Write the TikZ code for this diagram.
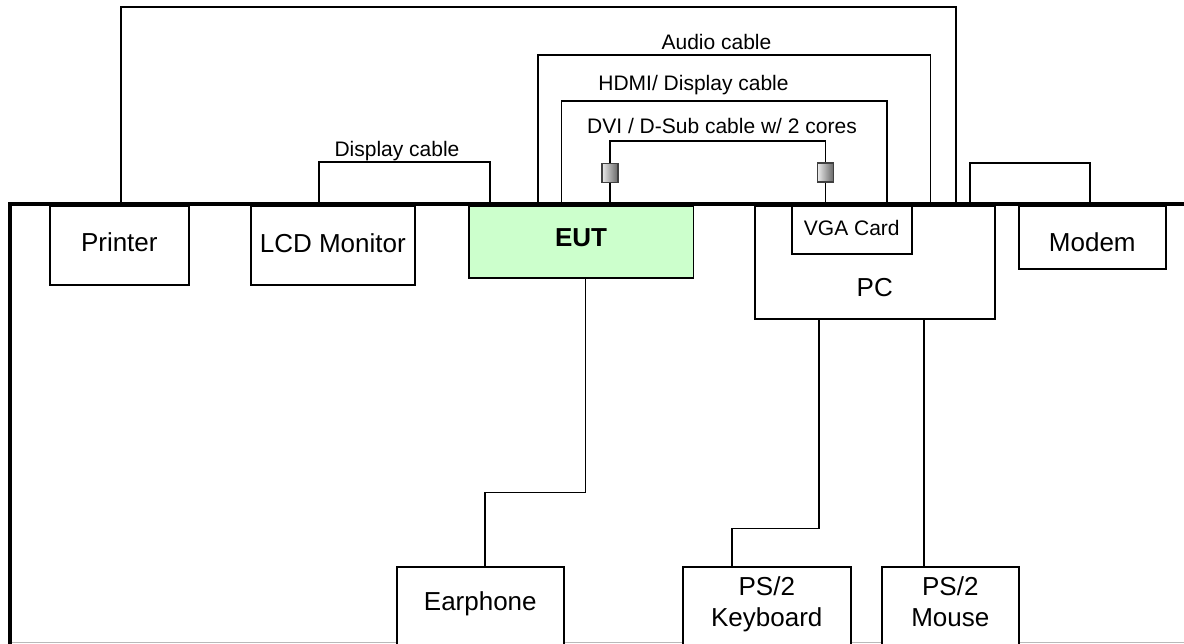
\documentclass[tikz,border=0pt]{standalone}
\usepackage{fontspec}
\setmainfont{Liberation Sans}
\newcommand\devfont{\fontsize{26}{31}\selectfont}
\newcommand\cabfont{\fontsize{21}{25}\selectfont}
\definecolor{eutgreen}{HTML}{CCFFCC}

\begin{document}
\begin{tikzpicture}[x=1pt, y=-1pt,
  dev/.style={draw, fill=white, line width=1.6pt, inner sep=0pt,
    anchor=north west, font=\devfont, align=center},
  cable/.style={line width=1.3pt},
  plug/.style={draw=black!75, line width=1.2pt, left color=white!92!black,
    right color=black!60, minimum width=16pt, minimum height=19pt, inner sep=0pt},
  lbl/.style={anchor=base, font=\cabfont, inner sep=0pt},
  frame/.style={line width=3.5pt}]

  \useasboundingbox (0,0) rectangle (1184,643);
  \clip (0,0) rectangle (1184,643);

  % bottom edge of the table
  \draw[gray!55, line width=1pt] (10,642) -- (1184,642);

  % Devices on the table
  \node[dev, minimum width=139pt, minimum height=79pt, text height=13pt, text depth=0pt] (printer) at (49,205) {Printer};
  \node[dev, minimum width=164pt, minimum height=79pt, text height=14.4pt, text depth=0pt] (lcd) at (250,205) {LCD Monitor};
  \node[dev, fill=eutgreen, font=\devfont\bfseries, minimum width=224.5pt, minimum height=72pt, text height=9.2pt, text depth=0pt] (eut) at (468,205) {EUT};
  \node[dev, minimum width=240pt, minimum height=113pt, text height=69pt, text depth=0pt] (pc) at (754,205) {PC};
  \node[dev, font=\cabfont, minimum width=120pt, minimum height=48pt, text height=12pt, text depth=0pt] (vga) at (791,205) {VGA Card};
  \node[dev, minimum width=147pt, minimum height=63pt, text height=29pt, text depth=0pt] (modem) at (1018,205) {Modem};

  % Devices below
  \node[dev, minimum width=167pt, minimum height=78.5pt, text height=9.5pt, text depth=0pt] (earphone) at (396,566) {Earphone};
  \node[dev, minimum width=168pt, minimum height=78.5pt] (kbd) at (682,566) {PS/2\\Keyboard\strut};
  \node[dev, minimum width=137pt, minimum height=78.5pt] (mouse) at (881,566) {PS/2\\Mouse\strut};

  % DVI plugs
  \node[plug] (plugL) at (610,173) {};
  \node[plug] (plugR) at (825.5,172.5) {};

  % Cables above the table
  \draw[cable] ([xshift=72pt]printer.north west) -- ++(0,-198) -| ([xshift=202pt]pc.north west);
  \draw[cable] ([xshift=69pt]lcd.north west) -- ++(0,-43) -| ([xshift=22pt]eut.north west);
  \draw[cable] ([xshift=70pt]eut.north west) -- ++(0,-150) -| ([xshift=176.5pt]pc.north west);
  \draw[cable] ([xshift=93.5pt]eut.north west) -- ++(0,-104) -| ([xshift=96pt]vga.north west);
  \draw[cable] (plugL.south) -- (plugL.south |- eut.north);
  \draw[cable] (plugL.north) -- ++(0,-22) -| (plugR.north);
  \draw[cable] (plugR.south) -- (plugR.south |- vga.north);
  \draw[cable] ([xshift=216pt]pc.north west) -- ++(0,-42) -| ([xshift=72pt]modem.north west);

  % Cables below the table
  \draw[cable] ([xshift=117.8pt]eut.south west) -- ++(0,214) -| ([xshift=89pt]earphone.north west);
  \draw[cable] ([xshift=65pt]pc.south west) -- ++(0,208.7) -| ([xshift=50pt]kbd.north west);
  \draw[cable] ([xshift=170pt]pc.south west) -- ([xshift=170pt]pc.south west |- mouse.north);

  % Cable labels
  \node[lbl] (lblDisp) at (397,156) {Display cable};
  \node[lbl] (lblAudio) at (716.5,49.3) {Audio cable};
  \node[lbl] (lblHdmi) at (693.5,90) {HDMI/ Display cable};
  \node[lbl] (lblDvi) at (722,133) {DVI / D-Sub cable w/ 2 cores};

  % Table edge
  \draw[frame] (10,650) -- (10,204) -- (1190,204);

\end{tikzpicture}
\end{document}
